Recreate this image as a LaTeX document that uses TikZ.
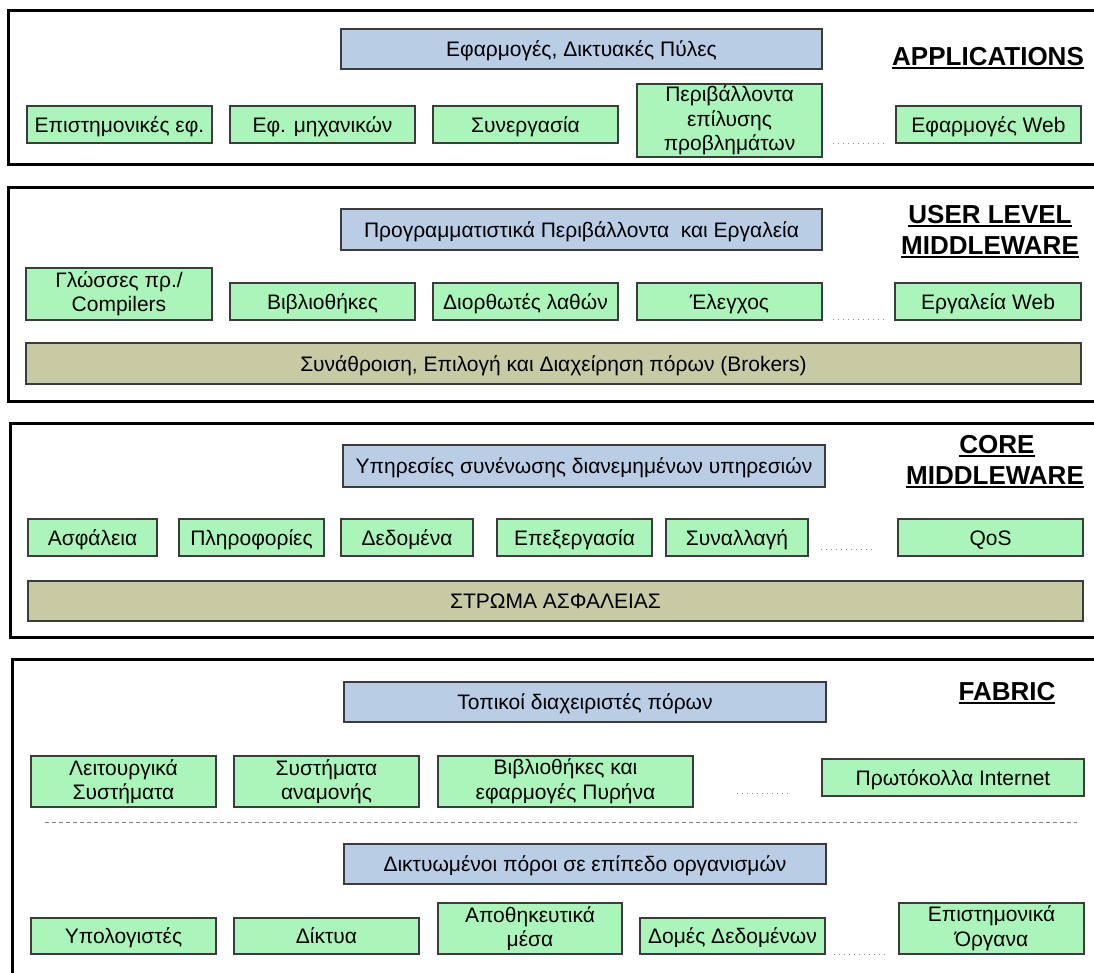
\documentclass[tikz,border=0pt]{standalone}
\usepackage{fontspec}
\setmainfont{Liberation Sans}
\definecolor{bluefill}{HTML}{B9CDE5}
\definecolor{greenfill}{HTML}{AAF6BA}
\definecolor{brownfill}{HTML}{C8CAA4}
\definecolor{edge}{HTML}{3C3C3C}
\definecolor{dotgray}{HTML}{8C8C8C}
\newcommand\boxfont{\fontsize{21}{24.5}\selectfont}
\newcommand\titlefont{\fontsize{26}{30}\selectfont\bfseries}
\newcommand\ultext[1]{\setbox0=\hbox{#1}\rlap{\rule[-4pt]{\wd0}{2.2pt}}\box0}
\begin{document}
\begin{tikzpicture}[x=1pt,y=-1pt,
  box/.style={draw=edge, line width=1.3pt, inner sep=0pt, align=center, font=\boxfont, text=black},
  oneline/.style={text height=15pt, text depth=0pt},
  bluebox/.style={box, oneline, fill=bluefill},
  greenbox/.style={box, oneline, fill=greenfill},
  greenbox2/.style={box, fill=greenfill, yshift=0pt},
  brownbox/.style={box, oneline, fill=brownfill},
  layer/.style={draw=black, line width=3pt},
  layertitle/.style={anchor=base, inner sep=0pt, font=\titlefont},
  ellipsis/.style={draw=dotgray, line width=1pt, dash pattern=on 1pt off 4pt},
  divider/.style={draw=gray, line width=1pt, dash pattern=on 4pt off 3pt}]
\useasboundingbox (0,0) rectangle (1094,972);
\clip (0,0) rectangle (1094,972);
\fill[white] (0,0) rectangle (1094,972);

% ---------------- APPLICATIONS ----------------
\draw[layer] (8,10) rectangle (1120,164);
\node[layertitle] (tapp) at (988,65) {\ultext{APPLICATIONS}};
\node[bluebox, minimum width=481, minimum height=40] (app) at (581.5,49) {Εφαρμογές, Δικτυακές Πύλες};
\node[greenbox, minimum width=185, minimum height=37] (ap1) at (119.5,124.5) {Επιστημονικές εφ.};
\node[greenbox, minimum width=185, minimum height=37] (ap2) at (322.5,124.5) {Εφ. μηχανικών};
\node[greenbox, minimum width=185, minimum height=37] (ap3) at (525.5,124.5) {Συνεργασία};
\node[greenbox2, minimum width=185, minimum height=73] (ap4) at (729.5,120.5) {Περιβάλλοντα\\επίλυσης\\προβλημάτων};
\node[greenbox, minimum width=185, minimum height=37] (ap5) at (988.5,124.5) {Εφαρμογές Web};
\coordinate (apdA) at (833,143); \coordinate (apdB) at (885,143);
\draw[ellipsis] (apdA) -- (apdB);

% ---------------- USER LEVEL MIDDLEWARE ----------------
\draw[layer] (8,187) rectangle (1120,401);
\node[layertitle] (tul1) at (990,223) {\ultext{USER LEVEL}};
\node[layertitle] (tul2) at (990,254) {\ultext{MIDDLEWARE}};
\node[bluebox, minimum width=481, minimum height=41] (ulm) at (581.5,229.5) {Προγραμματιστικά Περιβάλλοντα~ και Εργαλεία};
\node[greenbox2, minimum width=186, minimum height=52] (u1) at (119,294) {Γλώσσες πρ./\\Compilers};
\node[greenbox, minimum width=185, minimum height=37] (u2) at (322.5,301.5) {Βιβλιοθήκες};
\node[greenbox, minimum width=185, minimum height=37] (u3) at (525.5,301.5) {Διορθωτές λαθών};
\node[greenbox, minimum width=185, minimum height=37] (u4) at (729.5,301.5) {Έλεγχος};
\node[greenbox, minimum width=186, minimum height=37] (u5) at (988,301.5) {Εργαλεία Web};
\coordinate (udA) at (833,319); \coordinate (udB) at (885,319);
\draw[ellipsis] (udA) -- (udB);
\node[brownbox, minimum width=1055, minimum height=41] (brk) at (553.5,363.5) {Συνάθροιση, Επιλογή και Διαχείρηση πόρων (Brokers)};

% ---------------- CORE MIDDLEWARE ----------------
\draw[layer] (10,423) rectangle (1120,637);
\node[layertitle] (tcm1) at (997,453) {\ultext{CORE}};
\node[layertitle] (tcm2) at (995,484) {\ultext{MIDDLEWARE}};
\node[bluebox, minimum width=482, minimum height=42] (cm) at (584,466) {Υπηρεσίες συνένωσης διανεμημένων υπηρεσιών};
\node[greenbox, minimum width=129, minimum height=37] (c1) at (92.5,537.5) {Ασφάλεια};
\node[greenbox, minimum width=145, minimum height=37] (c2) at (251.5,537.5) {Πληροφορίες};
\node[greenbox, minimum width=132, minimum height=37] (c3) at (407,537.5) {Δεδομένα};
\node[greenbox, minimum width=155, minimum height=37] (c4) at (574.5,537.5) {Επεξεργασία};
\node[greenbox, minimum width=142, minimum height=37] (c5) at (737,537.5) {Συναλλαγή};
\node[greenbox, minimum width=185, minimum height=37] (c6) at (990.5,537.5) {QoS};
\coordinate (cdA) at (821,549); \coordinate (cdB) at (875,549);
\draw[ellipsis] (cdA) -- (cdB);
\node[brownbox, minimum width=1055, minimum height=40] (sec) at (555.5,601) {ΣΤΡΩΜΑ ΑΣΦΑΛΕΙΑΣ};

% ---------------- FABRIC ----------------
\draw[layer] (12,659) rectangle (1120,1000);
\node[layertitle] (tfab) at (1007,700) {\ultext{FABRIC}};
\node[bluebox, minimum width=482, minimum height=40] (fb) at (585,702) {Τοπικοί διαχειριστές πόρων};
\node[greenbox2, minimum width=185, minimum height=51] (f1) at (123.5,781.5) {Λειτουργικά\\Συστήματα};
\node[greenbox2, minimum width=185, minimum height=51] (f2) at (326.5,781.5) {Συστήματα\\αναμονής};
\node[greenbox2, minimum width=255, minimum height=51] (f3) at (565.5,781.5) {Βιβλιοθήκες και\\εφαρμογές Πυρήνα};
\node[greenbox, minimum width=262, minimum height=37] (f4) at (953,777.5) {Πρωτόκολλα Internet};
\coordinate (fdA) at (737,793); \coordinate (fdB) at (789,793);
\draw[ellipsis] (fdA) -- (fdB);
\coordinate (dvA) at (45,822); \coordinate (dvB) at (1077,822);
\draw[divider] (dvA) -- (dvB);
\node[bluebox, minimum width=482, minimum height=40] (fo) at (585,864) {Δικτυωμένοι πόροι σε επίπεδο οργανισμών};
\node[greenbox, minimum width=185, minimum height=36] (g1) at (123.5,936) {Υπολογιστές};
\node[greenbox, minimum width=185, minimum height=36] (g2) at (326.5,936) {Δίκτυα};
\node[greenbox2, minimum width=184, minimum height=51] (g3) at (530,928.5) {Αποθηκευτικά\\μέσα};
\node[greenbox, minimum width=185, minimum height=36] (g4) at (732.5,936) {Δομές Δεδομένων};
\node[greenbox2, minimum width=185, minimum height=51] (g5) at (991.5,928.5) {Επιστημονικά\\Όργανα};
\coordinate (gdA) at (834,954); \coordinate (gdB) at (885,954);
\draw[ellipsis] (gdA) -- (gdB);
\end{tikzpicture}
\end{document}
